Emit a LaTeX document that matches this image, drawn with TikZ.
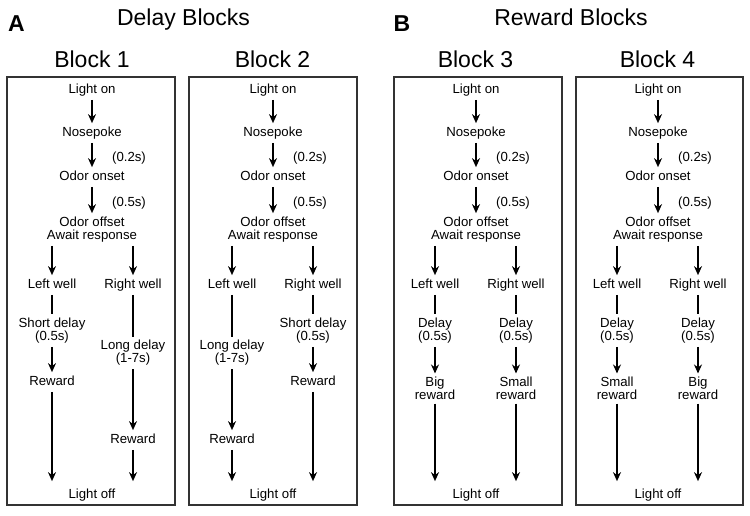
\documentclass[tikz,border=0pt]{standalone}
\usepackage{fontspec}
\setmainfont{Liberation Sans}
\usepackage{tikz}
\usetikzlibrary{arrows.meta}
\tikzstyle{txt} = [font=\fontsize{13.2}{13}\selectfont, align=center, inner xsep=1pt, inner ysep=3.5pt]
\tikzstyle{one} = [txt, text height=9.5pt, text depth=2.8pt]
\tikzstyle{hdr} = [font=\fontsize{23}{27}\selectfont, anchor=base, inner sep=0pt]
\tikzstyle{arrow} = [line width=1.8pt, -{Stealth[length=9pt,width=8pt]}]
\tikzstyle{plain} = [line width=1.8pt]
\tikzstyle{blockbox} = [line width=1.6pt, draw=black!80]
\begin{document}
\begin{tikzpicture}[x=1pt,y=-1pt]
      \useasboundingbox (0,0) rectangle (750,516);
      % headings
      \node[hdr] (lA) at (16.5,32) {\bfseries A};
      \node[hdr] (lB) at (402,32) {\bfseries B};
      \node[hdr] (hd) at (183.5,26) {Delay Blocks};
      \node[hdr] (hr) at (571,26) {Reward Blocks};
      \node[hdr] (b1) at (92,68) {Block 1};
      \node[hdr] (b2) at (272.5,68) {Block 2};
      \node[hdr] (b3) at (475.5,68) {Block 3};
      \node[hdr] (b4) at (657.5,68) {Block 4};
      \draw[blockbox] (7,77) rectangle (175,505);
      \draw[blockbox] (189,77) rectangle (357,505);
      \draw[blockbox] (394,77) rectangle (562,505);
      \draw[blockbox] (576,77) rectangle (743,505);
      % block 1
      \node[one] (on1) at (92,90) {Light on};
      \node[one] (np1) at (92,133) {Nosepoke};
      \node[one] (ta1) at (129,158) {(0.2s)};
      \node[one] (os1) at (92,177) {Odor onset};
      \node[one] (tb1) at (129,203) {(0.5s)};
      \node[txt] (of1) at (92,229.5) {Odor offset\\Await response};
      \node[one] (lw1) at (52,285) {Left well};
      \node[one] (rw1) at (133,285) {Right well};
      \node[txt] (ld1) at (52,330.5) {Short delay\\(0.5s)};
      \node[one] (lr1) at (52,382) {Reward};
      \node[txt] (rd1) at (133,353) {Long delay\\(1-7s)};
      \node[one] (rr1) at (133,440) {Reward};
      \node[one] (off1) at (92,495) {Light off};
      \draw[arrow] (on1)--(np1);
      \draw[arrow] (np1)--(os1);
      \draw[arrow] (os1)--(of1);
      \draw[arrow] (of1.south -| lw1)--(lw1);
      \draw[arrow] (of1.south -| rw1)--(rw1);
      \draw[plain] (lw1)--(ld1);
      \draw[arrow] (ld1)--(lr1);
      \draw[arrow, shorten >=4pt] (lr1)--(lr1 |- off1.north);
      \draw[plain] (rw1)--(rd1);
      \draw[arrow] (rd1)--(rr1);
      \draw[arrow, shorten >=4pt] (rr1)--(rr1 |- off1.north);
      % block 2
      \node[one] (on2) at (273,90) {Light on};
      \node[one] (np2) at (273,133) {Nosepoke};
      \node[one] (ta2) at (310,158) {(0.2s)};
      \node[one] (os2) at (273,177) {Odor onset};
      \node[one] (tb2) at (310,203) {(0.5s)};
      \node[txt] (of2) at (273,229.5) {Odor offset\\Await response};
      \node[one] (lw2) at (232,285) {Left well};
      \node[one] (rw2) at (313,285) {Right well};
      \node[txt] (ld2) at (232,353) {Long delay\\(1-7s)};
      \node[one] (lr2) at (232,440) {Reward};
      \node[txt] (rd2) at (313,330.5) {Short delay\\(0.5s)};
      \node[one] (rr2) at (313,382) {Reward};
      \node[one] (off2) at (273,495) {Light off};
      \draw[arrow] (on2)--(np2);
      \draw[arrow] (np2)--(os2);
      \draw[arrow] (os2)--(of2);
      \draw[arrow] (of2.south -| lw2)--(lw2);
      \draw[arrow] (of2.south -| rw2)--(rw2);
      \draw[plain] (lw2)--(ld2);
      \draw[arrow] (ld2)--(lr2);
      \draw[arrow, shorten >=4pt] (lr2)--(lr2 |- off2.north);
      \draw[plain] (rw2)--(rd2);
      \draw[arrow] (rd2)--(rr2);
      \draw[arrow, shorten >=4pt] (rr2)--(rr2 |- off2.north);
      % block 3
      \node[one] (on3) at (476,90) {Light on};
      \node[one] (np3) at (476,133) {Nosepoke};
      \node[one] (ta3) at (513,158) {(0.2s)};
      \node[one] (os3) at (476,177) {Odor onset};
      \node[one] (tb3) at (513,203) {(0.5s)};
      \node[txt] (of3) at (476,229.5) {Odor offset\\Await response};
      \node[one] (lw3) at (435,285) {Left well};
      \node[one] (rw3) at (516,285) {Right well};
      \node[txt] (ld3) at (435,330.5) {Delay\\(0.5s)};
      \node[txt] (lr3) at (435,388.5) {Big\\reward};
      \node[txt] (rd3) at (516,330.5) {Delay\\(0.5s)};
      \node[txt] (rr3) at (516,388.5) {Small\\reward};
      \node[one] (off3) at (476,495) {Light off};
      \draw[arrow] (on3)--(np3);
      \draw[arrow] (np3)--(os3);
      \draw[arrow] (os3)--(of3);
      \draw[arrow] (of3.south -| lw3)--(lw3);
      \draw[arrow] (of3.south -| rw3)--(rw3);
      \draw[plain] (lw3)--(ld3);
      \draw[arrow] (ld3)--(lr3);
      \draw[arrow, shorten >=4pt] (lr3)--(lr3 |- off3.north);
      \draw[plain] (rw3)--(rd3);
      \draw[arrow] (rd3)--(rr3);
      \draw[arrow, shorten >=4pt] (rr3)--(rr3 |- off3.north);
      % block 4
      \node[one] (on4) at (658,90) {Light on};
      \node[one] (np4) at (658,133) {Nosepoke};
      \node[one] (ta4) at (695,158) {(0.2s)};
      \node[one] (os4) at (658,177) {Odor onset};
      \node[one] (tb4) at (695,203) {(0.5s)};
      \node[txt] (of4) at (658,229.5) {Odor offset\\Await response};
      \node[one] (lw4) at (617,285) {Left well};
      \node[one] (rw4) at (698,285) {Right well};
      \node[txt] (ld4) at (617,330.5) {Delay\\(0.5s)};
      \node[txt] (lr4) at (617,388.5) {Small\\reward};
      \node[txt] (rd4) at (698,330.5) {Delay\\(0.5s)};
      \node[txt] (rr4) at (698,388.5) {Big\\reward};
      \node[one] (off4) at (658,495) {Light off};
      \draw[arrow] (on4)--(np4);
      \draw[arrow] (np4)--(os4);
      \draw[arrow] (os4)--(of4);
      \draw[arrow] (of4.south -| lw4)--(lw4);
      \draw[arrow] (of4.south -| rw4)--(rw4);
      \draw[plain] (lw4)--(ld4);
      \draw[arrow] (ld4)--(lr4);
      \draw[arrow, shorten >=4pt] (lr4)--(lr4 |- off4.north);
      \draw[plain] (rw4)--(rd4);
      \draw[arrow] (rd4)--(rr4);
      \draw[arrow, shorten >=4pt] (rr4)--(rr4 |- off4.north);
\end{tikzpicture}
\end{document}
